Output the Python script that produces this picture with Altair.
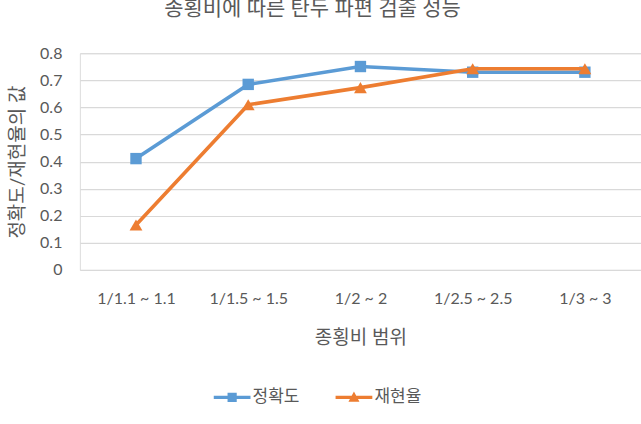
import altair as alt
import pandas as pd

categories = ["1/1.1 ~ 1.1", "1/1.5 ~ 1.5", "1/2 ~ 2", "1/2.5 ~ 2.5", "1/3 ~ 3"]
precision = [0.411, 0.685, 0.751, 0.730, 0.730]
recall = [0.166, 0.610, 0.673, 0.743, 0.743]
series_names = ["정확도", "재현율"]
series_colors = ["#5B9BD5", "#ED7D31"]
y_ticks = [0, 0.1, 0.2, 0.3, 0.4, 0.5, 0.6, 0.7, 0.8]

rows = []
for c, v in zip(categories, precision):
    rows.append({"cat": c, "val": v, "series": series_names[0]})
for c, v in zip(categories, recall):
    rows.append({"cat": c, "val": v, "series": series_names[1]})
df = pd.DataFrame(rows)

FONT = "Lato, 'Noto Sans CJK KR', sans-serif"
TXT = "#595959"

x_enc = alt.X("cat:N", sort=categories,
              scale=alt.Scale(type="point", domain=categories, padding=0.5),
              axis=alt.Axis(title="종횡비 범위", labelAngle=0, domain=False, ticks=False,
                            labelPadding=21, titlePadding=22, labelFontSize=16,
                            titleFontSize=19, labelColor=TXT, titleColor=TXT,
                            labelFont=FONT, titleFont=FONT, titleFontWeight="normal",
                            grid=False))
y_enc = alt.Y("val:Q", scale=alt.Scale(domain=[0, 0.8], nice=False),
              axis=alt.Axis(title="정확도/재현율의 값", values=y_ticks, format=".1~f",
                            domain=False, ticks=False, labelPadding=18, titlePadding=12,
                            labelFontSize=16, titleFontSize=19, labelColor=TXT,
                            titleColor=TXT, labelFont=FONT, titleFont=FONT,
                            titleFontWeight="normal", gridColor="#D9D9D9",
                            gridWidth=1.2))

layers = []
shapes = ["square", "triangle-up"]
sizes = [130, 165]
for name, col, shp, sz in zip(series_names, series_colors, shapes, sizes):
    base = alt.Chart(df).transform_filter(alt.datum.series == name)
    layers.append(base.mark_line(strokeWidth=3.6, color=col).encode(x=x_enc, y=y_enc))
    layers.append(base.mark_point(filled=True, opacity=1, color=col, shape=shp, size=sz)
                  .encode(x=x_enc, y=y_enc))

legend_paths = [
    "M-1.6,-0.14H1.6V0.14H-1.6Z M-0.4,-0.4H0.4V0.4H-0.4Z",
    "M-1.6,-0.14H1.6V0.14H-1.6Z M0,-0.52L0.48,0.38H-0.48Z",
]
legend_layer = alt.Chart(df).transform_filter("false").mark_point(
    filled=True, opacity=1).encode(
    x=x_enc, y=y_enc,
    color=alt.Color("series:N", scale=alt.Scale(domain=series_names, range=series_colors),
                    legend=alt.Legend(title=None, orient="none", direction="horizontal",
                                      legendX=141, legendY=333, symbolSize=529,
                                      labelOffset=9, columnPadding=36, padding=0,
                                      labelFontSize=17, labelColor=TXT, labelFont=FONT,
                                      symbolStrokeWidth=0)),
    shape=alt.Shape("series:N", scale=alt.Scale(domain=series_names, range=legend_paths)),
)
layers.append(legend_layer)

chart = alt.layer(*layers).properties(
    width=562, height=217,
    title=alt.TitleParams("종횡비에 따른 탄두 파편 검출 성능", fontSize=21, color=TXT,
                          font=FONT, fontWeight="normal", anchor="middle", dx=-48,
                          offset=26),
    autosize=alt.AutoSizeParams(type="none"),
    padding={"left": 80, "top": 53, "right": 0, "bottom": 154},
).configure_view(stroke=None).configure(background="white")

chart.save("out.html", embed_options={"renderer": "svg", "actions": False})
